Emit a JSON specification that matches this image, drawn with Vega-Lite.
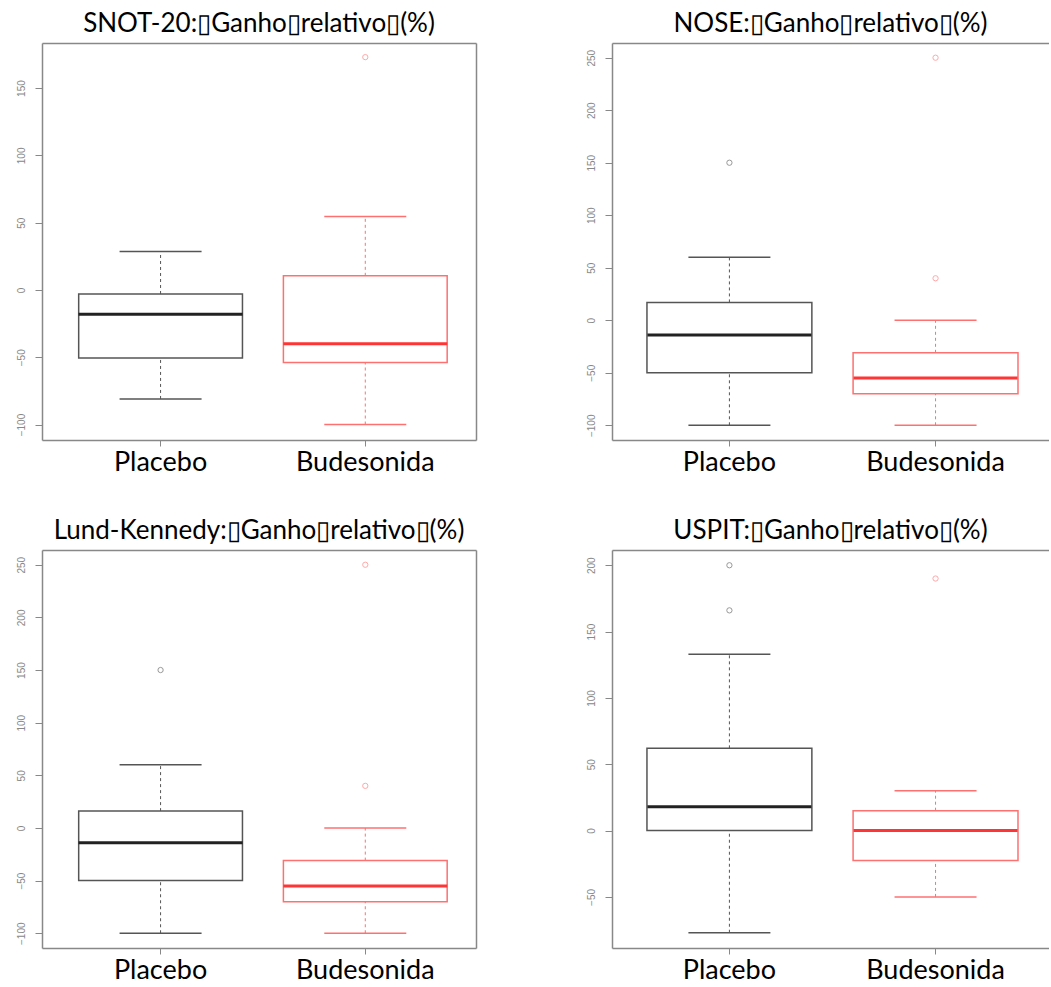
{
  "$schema": "https://vega.github.io/schema/vega-lite/v6.json",
  "padding": {"left": 15, "top": 11, "right": 0, "bottom": 0},
  "background": "white",
  "datasets": {
    "stats": [
      {"panel": "SNOT", "group": "Placebo", "lower": -81, "q1": -50.5, "median": -18, "q3": -3, "upper": 28.5},
      {"panel": "SNOT", "group": "Budesonida", "lower": -100, "q1": -54, "median": -40, "q3": 10.5, "upper": 54.5},
      {"panel": "NOSE", "group": "Placebo", "lower": -100, "q1": -50, "median": -14, "q3": 17, "upper": 60},
      {"panel": "NOSE", "group": "Budesonida", "lower": -100, "q1": -70, "median": -55, "q3": -31, "upper": 0},
      {"panel": "LK", "group": "Placebo", "lower": -100, "q1": -50, "median": -14, "q3": 16, "upper": 60},
      {"panel": "LK", "group": "Budesonida", "lower": -100, "q1": -70, "median": -55, "q3": -31, "upper": 0},
      {"panel": "USPIT", "group": "Placebo", "lower": -77, "q1": 0, "median": 18, "q3": 62, "upper": 133},
      {"panel": "USPIT", "group": "Budesonida", "lower": -50, "q1": -22.5, "median": 0, "q3": 15, "upper": 30}
    ],
    "outliers": [
      {"panel": "SNOT", "group": "Budesonida", "value": 173},
      {"panel": "NOSE", "group": "Placebo", "value": 150},
      {"panel": "NOSE", "group": "Budesonida", "value": 250},
      {"panel": "NOSE", "group": "Budesonida", "value": 40},
      {"panel": "LK", "group": "Placebo", "value": 150},
      {"panel": "LK", "group": "Budesonida", "value": 250},
      {"panel": "LK", "group": "Budesonida", "value": 40},
      {"panel": "USPIT", "group": "Placebo", "value": 200},
      {"panel": "USPIT", "group": "Placebo", "value": 166},
      {"panel": "USPIT", "group": "Budesonida", "value": 190}
    ]
  },
  "columns": 2,
  "spacing": {"row": 110, "column": 136},
  "bounds": "flush",
  "concat": [
    {
      "width": 434, "height": 397,
      "title": {"text": "SNOT-20:▯Ganho▯relativo▯(%)"},
      "resolve": {"axis": {"x": "independent", "y": "independent"}},
      "layer": [
        {"data": {"name": "stats"}, "transform": [{"filter": "datum.panel === 'SNOT'"}],
         "mark": {"type": "rule", "strokeDash": [3, 3], "strokeWidth": 1},
         "encoding": {
           "x": {"field": "group", "type": "nominal", "scale": {"domain": ["Placebo", "Budesonida"], "paddingInner": 0.2, "paddingOuter": 0.16, "align": 0.56}, "axis": {"orient": "top", "labels": false, "ticks": false, "title": null}},
           "y": {"field": "lower", "type": "quantitative", "scale": {"domain": [-111.5, 183.5], "nice": false, "zero": false}, "axis": {"orient": "right", "labels": false, "ticks": false, "title": null}},
           "y2": {"field": "q1"},
           "stroke": {"field": "group", "type": "nominal", "scale": {"domain": ["Placebo", "Budesonida"], "range": ["#555555", "#ff7070"]}, "legend": null}
         }},
        {"data": {"name": "stats"}, "transform": [{"filter": "datum.panel === 'SNOT'"}],
         "mark": {"type": "rule", "strokeDash": [3, 3], "strokeWidth": 1},
         "encoding": {
           "x": {"field": "group", "type": "nominal", "axis": null},
           "y": {"field": "q3", "type": "quantitative", "axis": null},
           "y2": {"field": "upper"},
           "stroke": {"field": "group", "type": "nominal", "legend": null}
         }},
        {"data": {"name": "stats"}, "transform": [{"filter": "datum.panel === 'SNOT'"}],
         "mark": {"type": "tick", "size": 82, "thickness": 1.5, "orient": "horizontal", "opacity": 1},
         "encoding": {
           "x": {"field": "group", "type": "nominal", "axis": null},
           "y": {"field": "lower", "type": "quantitative", "axis": null},
           "fill": {"field": "group", "type": "nominal", "scale": {"domain": ["Placebo", "Budesonida"], "range": ["#555555", "#ff7070"]}, "legend": null}
         }},
        {"data": {"name": "stats"}, "transform": [{"filter": "datum.panel === 'SNOT'"}],
         "mark": {"type": "tick", "size": 82, "thickness": 1.5, "orient": "horizontal", "opacity": 1},
         "encoding": {
           "x": {"field": "group", "type": "nominal", "axis": null},
           "y": {"field": "upper", "type": "quantitative", "axis": null},
           "fill": {"field": "group", "type": "nominal", "legend": null}
         }},
        {"data": {"name": "stats"}, "transform": [{"filter": "datum.panel === 'SNOT'"}],
         "mark": {"type": "rect", "fill": "white", "strokeWidth": 1.5},
         "encoding": {
           "x": {"field": "group", "type": "nominal", "axis": {"orient": "bottom", "title": null, "labelAngle": 0, "labelFont": "Lato", "labelFontSize": 27, "labelColor": "black", "tickSize": 6, "labelPadding": 3}},
           "y": {"field": "q1", "type": "quantitative", "axis": {"orient": "left", "title": null, "values": [-100, -50, 0, 50, 100, 150], "labelAngle": -90, "labelFont": "Liberation Sans", "labelFontSize": 10, "labelColor": "#888888", "tickSize": 7, "labelPadding": 9}},
           "y2": {"field": "q3"},
           "stroke": {"field": "group", "type": "nominal", "legend": null}
         }},
        {"data": {"name": "stats"}, "transform": [{"filter": "datum.panel === 'SNOT'"}],
         "mark": {"type": "tick", "size": 164, "thickness": 3, "orient": "horizontal", "opacity": 1},
         "encoding": {
           "x": {"field": "group", "type": "nominal", "axis": null},
           "y": {"field": "median", "type": "quantitative", "axis": null},
           "color": {"field": "group", "type": "nominal", "scale": {"domain": ["Placebo", "Budesonida"], "range": ["#222222", "#ff3535"]}, "legend": null}
         }},
        {"data": {"name": "outliers"}, "transform": [{"filter": "datum.panel === 'SNOT'"}],
         "mark": {"type": "point", "filled": false, "size": 28, "strokeWidth": 1, "opacity": 0.6},
         "encoding": {
           "x": {"field": "group", "type": "nominal", "axis": null},
           "y": {"field": "value", "type": "quantitative", "axis": null},
           "stroke": {"field": "group", "type": "nominal", "legend": null}
         }}
      ]
    },
    {
      "width": 437, "height": 397,
      "title": {"text": "NOSE:▯Ganho▯relativo▯(%)"},
      "resolve": {"axis": {"x": "independent", "y": "independent"}},
      "layer": [
        {"data": {"name": "stats"}, "transform": [{"filter": "datum.panel === 'NOSE'"}],
         "mark": {"type": "rule", "strokeDash": [3, 3], "strokeWidth": 1},
         "encoding": {
           "x": {"field": "group", "type": "nominal", "scale": {"domain": ["Placebo", "Budesonida"], "paddingInner": 0.2, "paddingOuter": 0.16, "align": 0.53}, "axis": {"orient": "top", "labels": false, "ticks": false, "title": null}},
           "y": {"field": "lower", "type": "quantitative", "scale": {"domain": [-114, 264], "nice": false, "zero": false}, "axis": null},
           "y2": {"field": "q1"},
           "stroke": {"field": "group", "type": "nominal", "scale": {"domain": ["Placebo", "Budesonida"], "range": ["#555555", "#ff7070"]}, "legend": null}
         }},
        {"data": {"name": "stats"}, "transform": [{"filter": "datum.panel === 'NOSE'"}],
         "mark": {"type": "rule", "strokeDash": [3, 3], "strokeWidth": 1},
         "encoding": {
           "x": {"field": "group", "type": "nominal", "axis": null},
           "y": {"field": "q3", "type": "quantitative", "axis": null},
           "y2": {"field": "upper"},
           "stroke": {"field": "group", "type": "nominal", "legend": null}
         }},
        {"data": {"name": "stats"}, "transform": [{"filter": "datum.panel === 'NOSE'"}],
         "mark": {"type": "tick", "size": 82, "thickness": 1.5, "orient": "horizontal", "opacity": 1},
         "encoding": {
           "x": {"field": "group", "type": "nominal", "axis": null},
           "y": {"field": "lower", "type": "quantitative", "axis": null},
           "fill": {"field": "group", "type": "nominal", "scale": {"domain": ["Placebo", "Budesonida"], "range": ["#555555", "#ff7070"]}, "legend": null}
         }},
        {"data": {"name": "stats"}, "transform": [{"filter": "datum.panel === 'NOSE'"}],
         "mark": {"type": "tick", "size": 82, "thickness": 1.5, "orient": "horizontal", "opacity": 1},
         "encoding": {
           "x": {"field": "group", "type": "nominal", "axis": null},
           "y": {"field": "upper", "type": "quantitative", "axis": null},
           "fill": {"field": "group", "type": "nominal", "legend": null}
         }},
        {"data": {"name": "stats"}, "transform": [{"filter": "datum.panel === 'NOSE'"}],
         "mark": {"type": "rect", "fill": "white", "strokeWidth": 1.5},
         "encoding": {
           "x": {"field": "group", "type": "nominal", "axis": {"orient": "bottom", "title": null, "labelAngle": 0, "labelFont": "Lato", "labelFontSize": 27, "labelColor": "black", "tickSize": 6, "labelPadding": 3}},
           "y": {"field": "q1", "type": "quantitative", "axis": {"orient": "left", "title": null, "values": [-100, -50, 0, 50, 100, 150, 200, 250], "labelAngle": -90, "labelFont": "Liberation Sans", "labelFontSize": 10, "labelColor": "#888888", "tickSize": 7, "labelPadding": 9}},
           "y2": {"field": "q3"},
           "stroke": {"field": "group", "type": "nominal", "legend": null}
         }},
        {"data": {"name": "stats"}, "transform": [{"filter": "datum.panel === 'NOSE'"}],
         "mark": {"type": "tick", "size": 164, "thickness": 3, "orient": "horizontal", "opacity": 1},
         "encoding": {
           "x": {"field": "group", "type": "nominal", "axis": null},
           "y": {"field": "median", "type": "quantitative", "axis": null},
           "color": {"field": "group", "type": "nominal", "scale": {"domain": ["Placebo", "Budesonida"], "range": ["#222222", "#ff3535"]}, "legend": null}
         }},
        {"data": {"name": "outliers"}, "transform": [{"filter": "datum.panel === 'NOSE'"}],
         "mark": {"type": "point", "filled": false, "size": 28, "strokeWidth": 1, "opacity": 0.6},
         "encoding": {
           "x": {"field": "group", "type": "nominal", "axis": null},
           "y": {"field": "value", "type": "quantitative", "axis": null},
           "stroke": {"field": "group", "type": "nominal", "legend": null}
         }}
      ]
    },
    {
      "width": 434, "height": 398,
      "title": {"text": "Lund-Kennedy:▯Ganho▯relativo▯(%)"},
      "resolve": {"axis": {"x": "independent", "y": "independent"}},
      "layer": [
        {"data": {"name": "stats"}, "transform": [{"filter": "datum.panel === 'LK'"}],
         "mark": {"type": "rule", "strokeDash": [3, 3], "strokeWidth": 1},
         "encoding": {
           "x": {"field": "group", "type": "nominal", "scale": {"domain": ["Placebo", "Budesonida"], "paddingInner": 0.2, "paddingOuter": 0.16, "align": 0.56}, "axis": {"orient": "top", "labels": false, "ticks": false, "title": null}},
           "y": {"field": "lower", "type": "quantitative", "scale": {"domain": [-114, 264], "nice": false, "zero": false}, "axis": {"orient": "right", "labels": false, "ticks": false, "title": null}},
           "y2": {"field": "q1"},
           "stroke": {"field": "group", "type": "nominal", "scale": {"domain": ["Placebo", "Budesonida"], "range": ["#555555", "#ff7070"]}, "legend": null}
         }},
        {"data": {"name": "stats"}, "transform": [{"filter": "datum.panel === 'LK'"}],
         "mark": {"type": "rule", "strokeDash": [3, 3], "strokeWidth": 1},
         "encoding": {
           "x": {"field": "group", "type": "nominal", "axis": null},
           "y": {"field": "q3", "type": "quantitative", "axis": null},
           "y2": {"field": "upper"},
           "stroke": {"field": "group", "type": "nominal", "legend": null}
         }},
        {"data": {"name": "stats"}, "transform": [{"filter": "datum.panel === 'LK'"}],
         "mark": {"type": "tick", "size": 82, "thickness": 1.5, "orient": "horizontal", "opacity": 1},
         "encoding": {
           "x": {"field": "group", "type": "nominal", "axis": null},
           "y": {"field": "lower", "type": "quantitative", "axis": null},
           "fill": {"field": "group", "type": "nominal", "scale": {"domain": ["Placebo", "Budesonida"], "range": ["#555555", "#ff7070"]}, "legend": null}
         }},
        {"data": {"name": "stats"}, "transform": [{"filter": "datum.panel === 'LK'"}],
         "mark": {"type": "tick", "size": 82, "thickness": 1.5, "orient": "horizontal", "opacity": 1},
         "encoding": {
           "x": {"field": "group", "type": "nominal", "axis": null},
           "y": {"field": "upper", "type": "quantitative", "axis": null},
           "fill": {"field": "group", "type": "nominal", "legend": null}
         }},
        {"data": {"name": "stats"}, "transform": [{"filter": "datum.panel === 'LK'"}],
         "mark": {"type": "rect", "fill": "white", "strokeWidth": 1.5},
         "encoding": {
           "x": {"field": "group", "type": "nominal", "axis": {"orient": "bottom", "title": null, "labelAngle": 0, "labelFont": "Lato", "labelFontSize": 27, "labelColor": "black", "tickSize": 6, "labelPadding": 3}},
           "y": {"field": "q1", "type": "quantitative", "axis": {"orient": "left", "title": null, "values": [-100, -50, 0, 50, 100, 150, 200, 250], "labelAngle": -90, "labelFont": "Liberation Sans", "labelFontSize": 10, "labelColor": "#888888", "tickSize": 7, "labelPadding": 9}},
           "y2": {"field": "q3"},
           "stroke": {"field": "group", "type": "nominal", "legend": null}
         }},
        {"data": {"name": "stats"}, "transform": [{"filter": "datum.panel === 'LK'"}],
         "mark": {"type": "tick", "size": 164, "thickness": 3, "orient": "horizontal", "opacity": 1},
         "encoding": {
           "x": {"field": "group", "type": "nominal", "axis": null},
           "y": {"field": "median", "type": "quantitative", "axis": null},
           "color": {"field": "group", "type": "nominal", "scale": {"domain": ["Placebo", "Budesonida"], "range": ["#222222", "#ff3535"]}, "legend": null}
         }},
        {"data": {"name": "outliers"}, "transform": [{"filter": "datum.panel === 'LK'"}],
         "mark": {"type": "point", "filled": false, "size": 28, "strokeWidth": 1, "opacity": 0.6},
         "encoding": {
           "x": {"field": "group", "type": "nominal", "axis": null},
           "y": {"field": "value", "type": "quantitative", "axis": null},
           "stroke": {"field": "group", "type": "nominal", "legend": null}
         }}
      ]
    },
    {
      "width": 437, "height": 398,
      "title": {"text": "USPIT:▯Ganho▯relativo▯(%)"},
      "resolve": {"axis": {"x": "independent", "y": "independent"}},
      "layer": [
        {"data": {"name": "stats"}, "transform": [{"filter": "datum.panel === 'USPIT'"}],
         "mark": {"type": "rule", "strokeDash": [3, 3], "strokeWidth": 1},
         "encoding": {
           "x": {"field": "group", "type": "nominal", "scale": {"domain": ["Placebo", "Budesonida"], "paddingInner": 0.2, "paddingOuter": 0.16, "align": 0.53}, "axis": {"orient": "top", "labels": false, "ticks": false, "title": null}},
           "y": {"field": "lower", "type": "quantitative", "scale": {"domain": [-88.5, 211.5], "nice": false, "zero": false}, "axis": null},
           "y2": {"field": "q1"},
           "stroke": {"field": "group", "type": "nominal", "scale": {"domain": ["Placebo", "Budesonida"], "range": ["#555555", "#ff7070"]}, "legend": null}
         }},
        {"data": {"name": "stats"}, "transform": [{"filter": "datum.panel === 'USPIT'"}],
         "mark": {"type": "rule", "strokeDash": [3, 3], "strokeWidth": 1},
         "encoding": {
           "x": {"field": "group", "type": "nominal", "axis": null},
           "y": {"field": "q3", "type": "quantitative", "axis": null},
           "y2": {"field": "upper"},
           "stroke": {"field": "group", "type": "nominal", "legend": null}
         }},
        {"data": {"name": "stats"}, "transform": [{"filter": "datum.panel === 'USPIT'"}],
         "mark": {"type": "tick", "size": 82, "thickness": 1.5, "orient": "horizontal", "opacity": 1},
         "encoding": {
           "x": {"field": "group", "type": "nominal", "axis": null},
           "y": {"field": "lower", "type": "quantitative", "axis": null},
           "fill": {"field": "group", "type": "nominal", "scale": {"domain": ["Placebo", "Budesonida"], "range": ["#555555", "#ff7070"]}, "legend": null}
         }},
        {"data": {"name": "stats"}, "transform": [{"filter": "datum.panel === 'USPIT'"}],
         "mark": {"type": "tick", "size": 82, "thickness": 1.5, "orient": "horizontal", "opacity": 1},
         "encoding": {
           "x": {"field": "group", "type": "nominal", "axis": null},
           "y": {"field": "upper", "type": "quantitative", "axis": null},
           "fill": {"field": "group", "type": "nominal", "legend": null}
         }},
        {"data": {"name": "stats"}, "transform": [{"filter": "datum.panel === 'USPIT'"}],
         "mark": {"type": "rect", "fill": "white", "strokeWidth": 1.5},
         "encoding": {
           "x": {"field": "group", "type": "nominal", "axis": {"orient": "bottom", "title": null, "labelAngle": 0, "labelFont": "Lato", "labelFontSize": 27, "labelColor": "black", "tickSize": 6, "labelPadding": 3}},
           "y": {"field": "q1", "type": "quantitative", "axis": {"orient": "left", "title": null, "values": [-50, 0, 50, 100, 150, 200], "labelAngle": -90, "labelFont": "Liberation Sans", "labelFontSize": 10, "labelColor": "#888888", "tickSize": 7, "labelPadding": 9}},
           "y2": {"field": "q3"},
           "stroke": {"field": "group", "type": "nominal", "legend": null}
         }},
        {"data": {"name": "stats"}, "transform": [{"filter": "datum.panel === 'USPIT'"}],
         "mark": {"type": "tick", "size": 164, "thickness": 3, "orient": "horizontal", "opacity": 1},
         "encoding": {
           "x": {"field": "group", "type": "nominal", "axis": null},
           "y": {"field": "median", "type": "quantitative", "axis": null},
           "color": {"field": "group", "type": "nominal", "scale": {"domain": ["Placebo", "Budesonida"], "range": ["#222222", "#ff3535"]}, "legend": null}
         }},
        {"data": {"name": "outliers"}, "transform": [{"filter": "datum.panel === 'USPIT'"}],
         "mark": {"type": "point", "filled": false, "size": 28, "strokeWidth": 1, "opacity": 0.6},
         "encoding": {
           "x": {"field": "group", "type": "nominal", "axis": null},
           "y": {"field": "value", "type": "quantitative", "axis": null},
           "stroke": {"field": "group", "type": "nominal", "legend": null}
         }}
      ]
    }
  ],
  "config": {
    "view": {"stroke": null},
    "axis": {"grid": false, "domainColor": "#888888", "domainWidth": 1.5, "tickColor": "#888888", "tickWidth": 1},
    "title": {"font": "Lato", "fontSize": 26, "fontWeight": "normal", "color": "black", "anchor": "middle", "offset": 6}
  }
}
